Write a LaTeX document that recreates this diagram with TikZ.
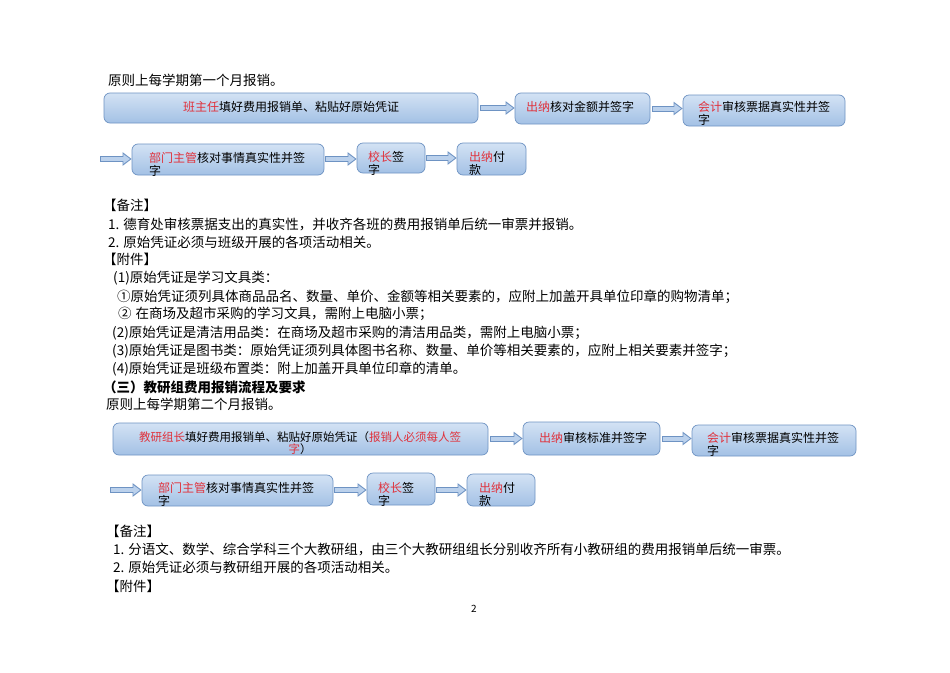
\documentclass[tikz,border=0pt]{standalone}
\usepackage{fontspec}
\setmainfont{Noto Sans CJK SC}
\usetikzlibrary{arrows.meta}
\definecolor{bdr}{HTML}{6E93C3}
\definecolor{afill}{HTML}{BBD1EC}
\definecolor{btop}{HTML}{D3E2F4}
\definecolor{bbot}{HTML}{A3C1E5}
\definecolor{hl}{HTML}{E0323C}
\newcommand{\hred}[1]{\textcolor{hl}{#1}}
\newcommand{\blockarrow}[2]{%
  \draw[arrout] #1 -- #2;
  \draw[arrin] #1 -- #2;}
\tikzset{
  box/.style={draw=bdr, line width=0.7pt, rounded corners=6pt,
    top color=btop, bottom color=bbot, inner sep=0pt},
  btxt/.style={anchor=base west, inner sep=0pt, align=left,
    font=\fontsize{12}{12.5}\selectfont},
  ctxt/.style={anchor=base, inner sep=0pt, align=center,
    font=\fontsize{12}{12.5}\selectfont},
  body/.style={anchor=base west, inner sep=0pt,
    font=\fontsize{13.5}{16}\selectfont},
  arrout/.style={draw=bdr, line width=6pt,
    -{Triangle[length=9pt,width=13pt]}},
  arrin/.style={draw=afill, line width=4pt, shorten <=1pt,
    shorten >=1.6pt, -{Triangle[length=6.8pt,width=9.4pt]}},
}
\begin{document}
\begin{tikzpicture}[x=1pt,y=-1pt]
\fill[white] (0,0) rectangle (950,672);
\useasboundingbox (0,0) rectangle (950,672);

% ---------- section 1 ----------
\node[body] (t1) at (108,85) {原则上每学期第一个月报销。};

\node[box, minimum width=374pt, minimum height=30pt] (A) at (291,108) {};
\node[ctxt] (At) at (291,111.6) {\hred{班主任}填好费用报销单、粘贴好原始凭证};
\node[box, minimum width=135pt, minimum height=31pt] (B) at (582.5,108.5) {};
\node[ctxt] (Bt) at (580,111.6) {\hred{出纳}核对金额并签字};
\node[box, minimum width=162pt, minimum height=31pt] (C) at (764,110.5) {};
\node[btxt, font=\fontsize{12}{13}\selectfont] (Ct) at (698,124.6) {\hred{会计}审核票据真实性并签\\字};

\coordinate (s2) at (100,159);
\node[box, minimum width=192pt, minimum height=31pt] (D) at (228,159.5) {};
\node[btxt] (Dt) at (149,175.1) {\hred{部门主管}核对事情真实性并签\\字};
\node[box, minimum width=68pt, minimum height=30pt] (E) at (391,158) {};
\node[btxt] (Et) at (368,174.1) {\hred{校长}签\\字};
\node[box, minimum width=69pt, minimum height=32pt] (F) at (491.5,159) {};
\node[btxt] (Ft) at (469,174.1) {\hred{出纳}付\\款};

\blockarrow{([xshift=2pt]A.east)}{(A.east -| B.west)}
\blockarrow{([xshift=2pt]B.east)}{(B.east -| C.west)}
\blockarrow{(s2)}{(s2 -| D.west)}
\blockarrow{([xshift=1pt]D.east |- s2)}{(s2 -| E.west)}
\blockarrow{([xshift=1pt]E.east)}{(E.east -| F.west)}

\node[body] (n1) at (103,210) {【备注】};
\node[body] (n2) at (108,229) {1.\hspace{4pt}德育处审核票据支出的真实性，并收齐各班的费用报销单后统一审票并报销。};
\node[body] (n3) at (108,247) {2.\hspace{4pt}原始凭证必须与班级开展的各项活动相关。};
\node[body] (n4) at (103,264) {【附件】};
\node[body] (n5) at (113,282) {(1)原始凭证是学习文具类：};
\node[body] (n6) at (117,301) {①原始凭证须列具体商品品名、数量、单价、金额等相关要素的，应附上加盖开具单位印章的购物清单；};
\node[body] (n7) at (118,318) {②\hspace{4pt}在商场及超市采购的学习文具，需附上电脑小票；};
\node[body] (n8) at (112,337) {(2)原始凭证是清洁用品类：在商场及超市采购的清洁用品类，需附上电脑小票；};
\node[body] (n9) at (112,355) {(3)原始凭证是图书类：原始凭证须列具体图书名称、数量、单价等相关要素的，应附上相关要素并签字；};
\node[body] (n10) at (112,373) {(4)原始凭证是班级布置类：附上加盖开具单位印章的清单。};

% ---------- section 2 ----------
\node[body, font=\fontsize{13.5}{16}\selectfont\bfseries] (h2) at (103,392) {（三）教研组费用报销流程及要求};
\node[body] (t2) at (106,409) {原则上每学期第二个月报销。};

\node[box, minimum width=375pt, minimum height=32pt] (G) at (300.5,439) {};
\node[ctxt, font=\fontsize{11.5}{11.7}\selectfont] (Gt) at (300,453.3) {\hred{教研组长}填好费用报销单、粘贴好原始凭证（\hred{报销人必须每人签}\\\hred{字}）};
\node[box, minimum width=137pt, minimum height=33pt] (H) at (591.5,438.5) {};
\node[ctxt] (Ht) at (593,442.6) {\hred{出纳}审核标准并签字};
\node[box, minimum width=164pt, minimum height=31pt] (I) at (774,440.5) {};
\node[btxt] (It) at (707,455.1) {\hred{会计}审核票据真实性并签\\字};

\coordinate (s4) at (110,490);
\node[box, minimum width=191pt, minimum height=31pt] (J) at (237.5,490.5) {};
\node[btxt] (Jt) at (158,505.1) {\hred{部门主管}核对事情真实性并签\\字};
\node[box, minimum width=68pt, minimum height=32pt] (K) at (401,489) {};
\node[btxt] (Kt) at (378,505.1) {\hred{校长}签\\字};
\node[box, minimum width=68pt, minimum height=32pt] (L) at (501,490) {};
\node[btxt] (Lt) at (479,505.1) {\hred{出纳}付\\款};

\blockarrow{([xshift=2pt]G.east |- H.west)}{(H.west)}
\blockarrow{([xshift=2pt]H.east)}{(H.east -| I.west)}
\blockarrow{(s4)}{(s4 -| J.west)}
\blockarrow{([xshift=1pt]J.east |- s4)}{(s4 -| K.west)}
\blockarrow{([xshift=1pt]K.east |- s4)}{(s4 -| L.west)}

\node[body] (m1) at (106,536) {【备注】};
\node[body] (m2) at (113,554) {1.\hspace{4pt}分语文、数学、综合学科三个大教研组，由三个大教研组组长分别收齐所有小教研组的费用报销单后统一审票。};
\node[body] (m3) at (113,572) {2.\hspace{4pt}原始凭证必须与教研组开展的各项活动相关。};
\node[body] (m4) at (106,591) {【附件】};

\node[inner sep=0pt, font=\fontsize{10}{10}\selectfont] (pg) at (474,609) {2};
\end{tikzpicture}
\end{document}
